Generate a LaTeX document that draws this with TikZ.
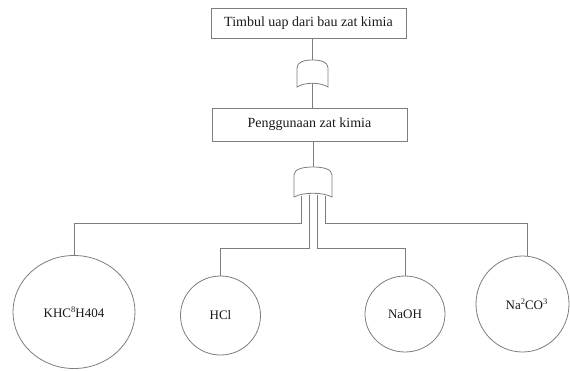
\documentclass[tikz,border=0pt]{standalone}
\usepackage{fontspec}
\setmainfont{Liberation Serif}
\usetikzlibrary{shapes.geometric}
\definecolor{linegray}{RGB}{125,125,125}
\definecolor{inkgray}{RGB}{25,25,25}
\newcommand{\smallsup}[1]{\raisebox{0.42em}{\fontsize{8.5}{9}\selectfont #1}}
\begin{document}
\begin{tikzpicture}[x=1pt,y=-1pt,
  wire/.style={draw=linegray, line width=0.8pt},
  eventbox/.style={draw=linegray, line width=0.8pt, rectangle, minimum width=195pt,
    inner sep=0pt, text=inkgray, font=\fontsize{14}{16}\selectfont},
  basic/.style={draw=linegray, line width=0.8pt, ellipse, inner sep=0pt,
    text=inkgray, font=\fontsize{13}{15}\selectfont},
  gateshape/.style={draw=linegray, line width=0.8pt, fill=white}]
\useasboundingbox (0,0) rectangle (570,370);

% events
\node[eventbox, minimum height=30pt] (top) at (308.5,23) {Timbul uap dari bau zat kimia};
\node[eventbox, minimum height=33pt] (mid) at (309.5,124.5) {Penggunaan zat kimia};

% basic causes
\node[basic, minimum width=122pt, minimum height=113pt] (khc) at (74,312) {KHC\smallsup{8}H404};
\node[basic, minimum width=80pt, minimum height=79pt] (hcl) at (220.5,315.5) {HCl};
\node[basic, minimum width=80pt, minimum height=76pt] (naoh) at (405,314) {NaOH};
\node[basic, minimum width=93pt, minimum height=96pt] (naco) at (522.5,304) {\hspace{8pt}Na\smallsup{2}CO\smallsup{3}};

% gate between the two events
\coordinate (g1top) at (312.5,60);
\coordinate (g1bot) at (312.5,83);
\path[gateshape] (297,87) -- (297,68) .. controls (297,62) and (304,60) .. (312.5,60)
  .. controls (321,60) and (328,62) .. (328,68) -- (328,87)
  .. controls (320,82) and (305,82) .. (297,87) -- cycle;
\draw[wire] (top.south -| g1top) -- (g1top);
\draw[wire] (g1bot) -- (mid.north -| g1bot);

% gate below the second event
\coordinate (g2top) at (313,167);
\path[gateshape] (294,197) -- (294,175) .. controls (294,169) and (303,167) .. (313,167)
  .. controls (323,167) and (332,169) .. (332,175) -- (332,197)
  .. controls (323,192) and (303,192) .. (294,197) -- cycle;
\draw[wire] (mid.south -| g2top) -- (g2top);

% gate outputs
\coordinate (o1) at (301,195.5);
\coordinate (o2) at (309,194.5);
\coordinate (o3) at (317,194.5);
\coordinate (o4) at (325,195.5);
\coordinate (k1) at (301,223);
\coordinate (k2) at (309,248);
\coordinate (k3) at (317,248);
\coordinate (k4) at (325,223);
\draw[wire] (o1) -- (k1) -| (khc.north);
\draw[wire] (o2) -- (k2) -| (hcl.north);
\draw[wire] (o3) -- (k3) -| (naoh.north);
\draw[wire] (o4) -- (k4) -| ([xshift=5pt]naco.north);
\end{tikzpicture}
\end{document}
